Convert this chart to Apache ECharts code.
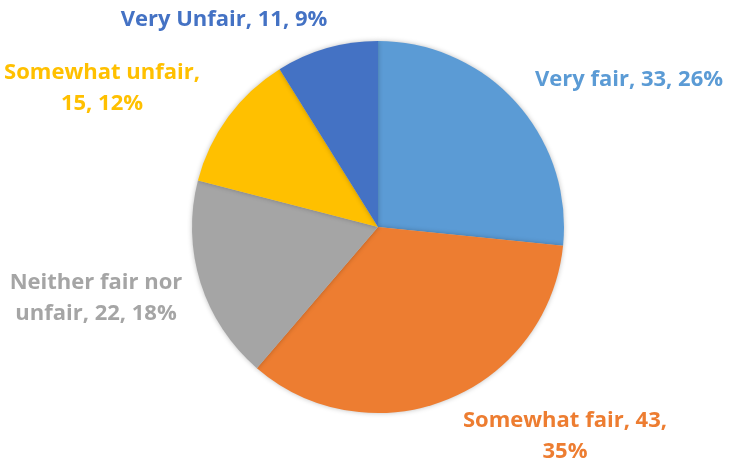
<!DOCTYPE html>
<html>
<head>
<meta charset="utf-8">
<script src="https://cdn.jsdelivr.net/npm/echarts@6/dist/echarts.min.js"></script>
<style>html,body{margin:0;padding:0;background:#fff;}#chart{width:733px;height:467px;}</style>
</head>
<body>
<div id="chart"></div>
<script>
const categories = ['Very fair', 'Somewhat fair', 'Neither fair nor unfair', 'Somewhat unfair', 'Very Unfair'];
const values = [33, 43, 22, 15, 11];
const colors = ['#5B9BD5', '#ED7D31', '#A5A5A5', '#FFC000', '#4472C4'];
const wrapAt = [0, 3, 3, 2, 0];
const labelPos = [[629, 80], [565, 436], [96, 298], [102, 88], [224, 20]];

const chart = echarts.init(document.getElementById('chart'), null, {renderer: 'canvas'});
chart.setOption({
  animation: false,
  backgroundColor: '#fff',
  series: [{
    type: 'pie',
    center: [378, 227],
    radius: 186,
    startAngle: 90,
    clockwise: true,
    percentPrecision: 0,
    data: categories.map((c, i) => ({
      name: c, value: values[i],
      itemStyle: {color: colors[i]},
      label: {color: colors[i]}
    })),
    itemStyle: {shadowBlur: 5, shadowColor: 'rgba(0,0,0,0.25)'},
    emphasis: {disabled: true},
    labelLine: {show: false},
    label: {
      show: true,
      position: 'outside',
      overflow: 'none',
      fontFamily: 'Open Sans',
      fontWeight: 'bold',
      fontSize: 22,
      lineHeight: 31,
      align: 'center',
      formatter: p => {
        const words = (p.name + ', ' + p.value + ', ' + p.percent + '%').split(' ');
        const w = wrapAt[p.dataIndex];
        if (!w) return words.join(' ');
        return words.slice(0, w).join(' ') + '\n' + words.slice(w).join(' ');
      }
    },
    labelLayout: p => ({
      x: labelPos[p.dataIndex][0],
      y: labelPos[p.dataIndex][1],
      align: 'center',
      verticalAlign: 'middle',
      hideOverlap: false
    })
  }]
});
</script>
</body>
</html>
